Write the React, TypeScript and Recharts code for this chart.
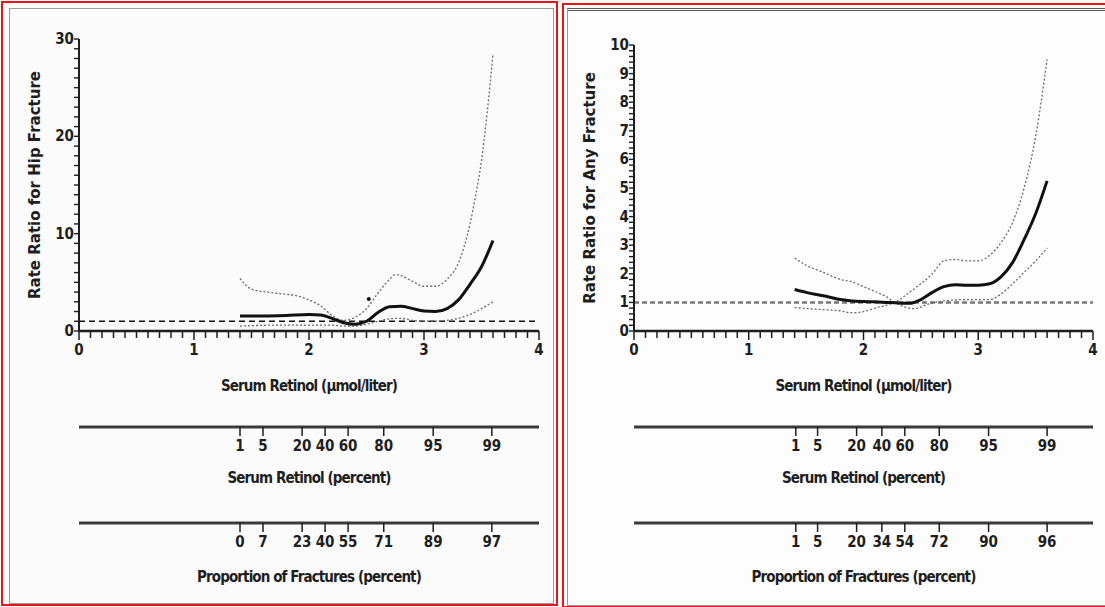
import { LineChart, Line, XAxis, YAxis, ReferenceLine, ReferenceDot } from "recharts";

// hip fracture panel
const hipMainX = [1.4, 1.6, 1.8, 2.0, 2.1, 2.2, 2.3, 2.4, 2.5, 2.6, 2.7, 2.8, 2.9, 3.0, 3.1, 3.2, 3.3, 3.4, 3.5, 3.6];
const hipMainY = [1.55, 1.55, 1.6, 1.7, 1.65, 1.3, 0.85, 0.7, 1.0, 1.9, 2.5, 2.55, 2.3, 2.05, 2.0, 2.3, 3.2, 4.8, 6.6, 9.3];
const hipUpperX = [1.4, 1.5, 1.7, 1.9, 2.0, 2.1, 2.2, 2.3, 2.4, 2.5, 2.6, 2.7, 2.75, 2.8, 2.9, 3.0, 3.1, 3.2, 3.3, 3.4, 3.45, 3.5, 3.55, 3.6];
const hipUpperY = [5.4, 4.3, 3.9, 3.6, 3.2, 2.6, 1.6, 1.1, 1.4, 2.3, 3.9, 5.3, 5.8, 5.7, 5.1, 4.6, 4.6, 5.3, 7.0, 11, 14, 17.5, 22.5, 28.5];
const hipLowerX = [1.4, 1.7, 2.0, 2.2, 2.3, 2.4, 2.5, 2.6, 2.7, 2.8, 2.9, 3.0, 3.1, 3.2, 3.3, 3.4, 3.5, 3.6];
const hipLowerY = [0.5, 0.6, 0.6, 0.6, 0.5, 0.5, 0.7, 1.0, 1.25, 1.3, 1.1, 1.0, 1.0, 1.1, 1.3, 1.7, 2.3, 3.0];
const hipDot = { x: 2.52, y: 3.3 };
const hipPctPos = [1.4, 1.6, 1.94, 2.14, 2.34, 2.65, 3.08, 3.59];
const hipPctLabels = ["1", "5", "20", "40", "60", "80", "95", "99"];
const hipFracLabels = ["0", "7", "23", "40", "55", "71", "89", "97"];

// any fracture panel
const anyMainX = [1.4, 1.5, 1.65, 1.8, 1.9, 2.0, 2.1, 2.2, 2.3, 2.4, 2.5, 2.6, 2.7, 2.8, 2.9, 3.0, 3.1, 3.2, 3.3, 3.4, 3.5, 3.6];
const anyMainY = [1.45, 1.35, 1.23, 1.1, 1.05, 1.03, 1.02, 1.0, 0.98, 0.97, 1.1, 1.35, 1.55, 1.62, 1.6, 1.6, 1.65, 1.9, 2.4, 3.2, 4.1, 5.25];
const anyUpperX = [1.4, 1.5, 1.65, 1.8, 1.9, 2.0, 2.1, 2.2, 2.27, 2.35, 2.45, 2.6, 2.7, 2.8, 2.9, 3.0, 3.1, 3.2, 3.3, 3.4, 3.5, 3.6];
const anyUpperY = [2.55, 2.3, 2.05, 1.8, 1.72, 1.55, 1.38, 1.2, 1.02, 1.2, 1.5, 2.0, 2.45, 2.5, 2.45, 2.45, 2.65, 3.1, 3.8, 5.0, 6.8, 9.5];
const anyLowerX = [1.4, 1.6, 1.8, 1.9, 2.0, 2.1, 2.2, 2.27, 2.35, 2.45, 2.55, 2.7, 2.9, 3.1, 3.2, 3.3, 3.4, 3.5, 3.6];
const anyLowerY = [0.82, 0.76, 0.7, 0.64, 0.68, 0.8, 0.9, 0.98, 0.85, 0.78, 0.92, 1.05, 1.1, 1.1, 1.3, 1.65, 2.05, 2.45, 2.9];
const anyPctPos = [1.41, 1.6, 1.94, 2.16, 2.36, 2.66, 3.09, 3.6];
const anyPctLabels = ["1", "5", "20", "40", "60", "80", "95", "99"];
const anyFracLabels = ["1", "5", "20", "34", "54", "72", "90", "96"];

const FONT = "'DejaVu Sans Condensed', 'Liberation Sans Narrow', sans-serif";
const INK = "#1e1e1e";

const pts = (xs: number[], ys: number[]) => xs.map((x, i) => ({ x, y: ys[i] }));
const xTicks = Array.from({ length: 41 }, (_, i) => i / 10);
const isInt = (v: number) => Math.abs(v - Math.round(v)) < 1e-6;

const XTick = (p: any) => {
  const v = p.payload.value;
  const major = isInt(v);
  return (
    <g>
      <line x1={p.x} x2={p.x} y1={p.y} y2={p.y + (major ? 9 : 7)} stroke={INK} strokeWidth={1.5} />
      {major && (
        <text x={p.x} y={p.y + 24} textAnchor="middle" fontFamily={FONT} fontWeight="bold" fontSize={15} fill={INK}>
          {v}
        </text>
      )}
    </g>
  );
};

const YTick = (p: any) => {
  const v = p.payload.value;
  const major = isInt(v / p.step);
  return (
    <g>
      <line x1={p.x - 5} x2={p.x} y1={p.y} y2={p.y} stroke={INK} strokeWidth={1.4} />
      {major && (
        <text x={p.x - 5} y={p.y + 5} textAnchor="end" fontFamily={FONT} fontWeight="bold" fontSize={15} fill={INK}>
          {Math.round(v)}
        </text>
      )}
    </g>
  );
};

const PctTick = (p: any) => {
  const i = p.index;
  return (
    <g>
      <line x1={p.x} x2={p.x} y1={p.y} y2={p.y + 9} stroke={INK} strokeWidth={1.5} />
      <text x={p.x} y={p.y + 24} textAnchor="middle" fontFamily={FONT} fontWeight="bold" fontSize={15} fill={INK}>
        {p.labels[i]}
      </text>
    </g>
  );
};

const axisLabel = (value: string, offset: number) => ({
  value,
  position: "insideTop" as const,
  offset,
  style: { fontFamily: FONT, fontWeight: "bold", fontSize: 15, letterSpacing: -0.9, fill: INK },
});

interface PanelProps {
  width: number;
  left: number;
  top: number;
  right: number;
  yMax: number;
  yTicks: number[];
  yStep: number;
  yTitle: string;
  main: { x: number; y: number }[];
  upper: { x: number; y: number }[];
  lower: { x: number; y: number }[];
  pctPos: number[];
  pctLabels: string[];
  fracLabels: string[];
  refColor: string;
  refWidth: number;
  refDash: string;
  dot?: { x: number; y: number };
}

function Panel(props: PanelProps) {
  const { width, left, top, right, yMax, yTicks, yStep, yTitle, main, upper, lower, pctPos, pctLabels, fracLabels } = props;
  return (
    <LineChart width={width} height={607} margin={{ top, right, left, bottom: 14 }}>
      <XAxis
        xAxisId="a_main"
        type="number"
        dataKey="x"
        domain={[0, 4]}
        ticks={xTicks}
        interval={0}
        tickSize={0}
        tickMargin={0}
        tick={<XTick />}
        axisLine={{ stroke: INK, strokeWidth: 2.5 }}
        height={96}
        allowDataOverflow
        label={axisLabel("Serum Retinol (μmol/liter)", 49)}
      />
      <XAxis
        xAxisId="b_pct"
        type="number"
        dataKey="x"
        domain={[0, 4]}
        ticks={pctPos}
        interval={0}
        tickSize={0}
        tickMargin={0}
        tick={<PctTick labels={pctLabels} />}
        axisLine={{ stroke: "#3a3a3a", strokeWidth: 3 }}
        height={96}
        allowDataOverflow
        label={axisLabel("Serum Retinol (percent)", 45)}
      />
      <XAxis
        xAxisId="c_frac"
        type="number"
        dataKey="x"
        domain={[0, 4]}
        ticks={pctPos}
        interval={0}
        tickSize={0}
        tickMargin={0}
        tick={<PctTick labels={fracLabels} />}
        axisLine={{ stroke: "#3a3a3a", strokeWidth: 3 }}
        height={70}
        allowDataOverflow
        label={axisLabel("Proportion of Fractures (percent)", 48)}
      />
      <YAxis
        type="number"
        domain={[0, yMax]}
        ticks={yTicks}
        interval={0}
        tickSize={0}
        tickMargin={0}
        tick={<YTick step={yStep} />}
        axisLine={{ stroke: INK, strokeWidth: 2 }}
        width={40}
        allowDataOverflow
        label={{
          value: yTitle,
          angle: -90,
          position: "left",
          offset: 4,
          style: { textAnchor: "middle", fontFamily: "'DejaVu Sans', sans-serif", fontWeight: "bold", fontSize: 15, fill: INK },
        }}
      />
      <ReferenceLine xAxisId="a_main" y={1} stroke={props.refColor} strokeWidth={props.refWidth} strokeDasharray={props.refDash} />
      <Line xAxisId="a_main" data={upper} dataKey="y" type="monotone" stroke="#6a6a6a" strokeWidth={1.3} strokeDasharray="2 2" dot={false} isAnimationActive={false} />
      <Line xAxisId="a_main" data={lower} dataKey="y" type="monotone" stroke="#6a6a6a" strokeWidth={1.3} strokeDasharray="2 2" dot={false} isAnimationActive={false} />
      <Line xAxisId="a_main" data={main} dataKey="y" type="monotone" stroke="#111" strokeWidth={3} dot={false} isAnimationActive={false} />
      {props.dot && <ReferenceDot xAxisId="a_main" x={props.dot.x} y={props.dot.y} r={2} fill="#111" stroke="none" />}
    </LineChart>
  );
}

export default function App() {
  const hipYTicks = Array.from({ length: 31 }, (_, i) => i);
  const anyYTicks = Array.from({ length: 51 }, (_, i) => i / 5);
  return (
    <div style={{ position: "absolute", left: 0, top: 0, width: 1105, height: 607, overflow: "hidden", background: "#fff" }}>
      <div style={{ position: "absolute", left: 1, top: 1, width: 553, height: 601, border: "2px solid #e8141c" }} />
      <div style={{ position: "absolute", left: 9, top: 8, width: 543, height: 594, border: "1px solid #9a9a9a", background: "#fbfbfb" }} />
      <div style={{ position: "absolute", left: 0, top: 0 }}>
        <Panel
          width={558}
          left={39}
          top={39}
          right={19}
          yMax={30}
          yTicks={hipYTicks}
          yStep={10}
          yTitle="Rate Ratio for Hip Fracture"
          main={pts(hipMainX, hipMainY)}
          upper={pts(hipUpperX, hipUpperY)}
          lower={pts(hipLowerX, hipLowerY)}
          pctPos={hipPctPos}
          pctLabels={hipPctLabels}
          fracLabels={hipFracLabels}
          refColor="#111"
          refWidth={1.5}
          refDash="6 4"
          dot={hipDot}
        />
      </div>
      <div style={{ position: "absolute", left: 562, top: 3, width: 560, height: 601, border: "2px solid #e8141c" }} />
      <div style={{ position: "absolute", left: 567, top: 8, width: 560, height: 594, borderTop: "3px double #555", borderLeft: "1px solid #9a9a9a", borderBottom: "1px solid #9a9a9a", background: "#fdfdfd" }} />
      <div style={{ position: "absolute", left: 562, top: 0 }}>
        <Panel
          width={543}
          left={32}
          top={45}
          right={12}
          yMax={10}
          yTicks={anyYTicks}
          yStep={1}
          yTitle="Rate Ratio for Any Fracture"
          main={pts(anyMainX, anyMainY)}
          upper={pts(anyUpperX, anyUpperY)}
          lower={pts(anyLowerX, anyLowerY)}
          pctPos={anyPctPos}
          pctLabels={anyPctLabels}
          fracLabels={anyFracLabels}
          refColor="#777"
          refWidth={2.5}
          refDash="5 3"
        />
      </div>
    </div>
  );
}
